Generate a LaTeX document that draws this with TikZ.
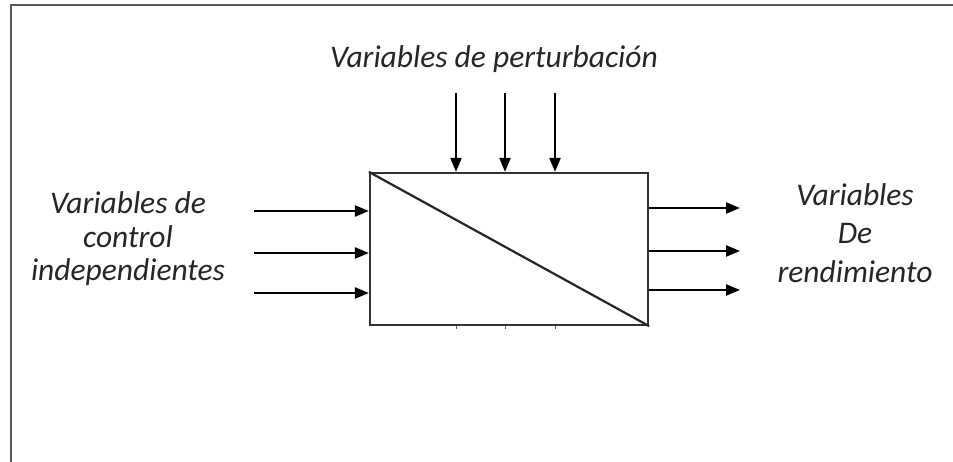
\documentclass[tikz,border=0pt]{standalone}
\usepackage{fontspec}
\setmainfont{Carlito}
\usetikzlibrary{arrows.meta}
\tikzset{
  arr/.style={line width=2.2pt, draw=black, -{Triangle[length=14pt,width=11pt]}},
  lbl/.style={font=\itshape\fontsize{31.5pt}{33.5pt}\selectfont, text=black!85, align=center, inner sep=0pt},
  frame/.style={draw=black!65, line width=1.6pt},
}
\begin{document}
\begin{tikzpicture}[x=1pt,y=-1pt]
\useasboundingbox (0,0) rectangle (953,462);
\draw[frame] (11,462) -- (11,5) -- (953,5);

\node[draw=black!80, line width=2.2pt, minimum width=278pt, minimum height=152pt, inner sep=0pt] (box) at (509,249) {};
\draw[line width=2.2pt, draw=black!85] (box.north west) -- (box.south east);

% top arrows
\coordinate (t1) at (456,93);
\coordinate (t2) at (505,93);
\coordinate (t3) at (555,93);
\foreach \c in {t1,t2,t3} {
  \draw[arr] (\c) -- (\c |- box.north);
  \draw[line width=1pt, draw=black!60] (\c |- box.south) -- ++(0,3);
}

% left arrows
\coordinate (l1) at (254,211);
\coordinate (l2) at (254,253);
\coordinate (l3) at (254,293);
\foreach \c in {l1,l2,l3} \draw[arr] (\c) -- (\c -| box.west);

% right arrows
\coordinate (r1) at (740,208);
\coordinate (r2) at (740,251);
\coordinate (r3) at (740,290);
\foreach \c in {r1,r2,r3} \draw[arr] (\c -| box.east) -- (\c);

\node[lbl, anchor=base] (top) at (494,68) {Variables de perturbación};
\node[lbl] (left) at (128,239) {Variables de\\control\\independientes};
\node[lbl, font=\itshape\fontsize{31.5pt}{38.5pt}\selectfont] (right) at (855,233) {Variables\\De\\rendimiento};
\end{tikzpicture}
\end{document}
